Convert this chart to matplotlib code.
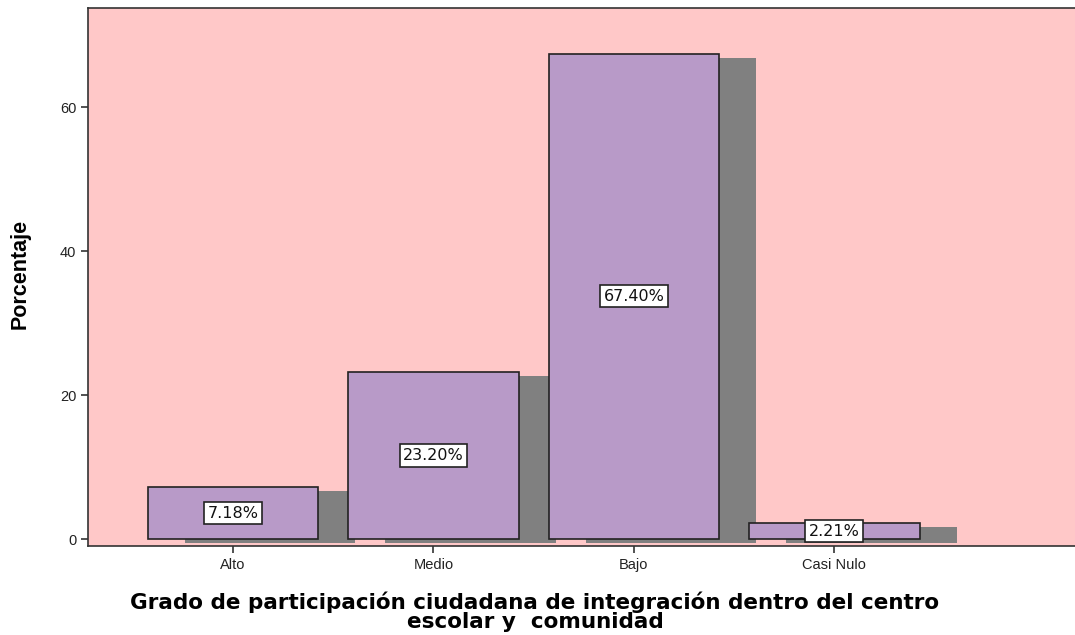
import matplotlib
matplotlib.use('Agg')
import matplotlib.pyplot as plt
import numpy as np

# datos
categorias = ['Alto', 'Medio', 'Bajo', 'Casi Nulo']
porcentajes = [7.18, 23.20, 67.40, 2.21]
etiquetas = ['7.18%', '23.20%', '67.40%', '2.21%']

plt.rcParams['font.family'] = ['Liberation Sans', 'DejaVu Sans']

color_fondo = '#FFC8C8'
color_barra = '#B89AC8'
color_sombra = '#808080'

fig = plt.figure(figsize=(10.75, 6.35), dpi=100)
ax = fig.add_axes([88 / 1075, 89 / 635, 1 - 88 / 1075, 538 / 635])
ax.set_facecolor(color_fondo)

x = np.arange(len(categorias))
ancho = 0.85

# sombras (desplazadas a la derecha y abajo)
ax.bar(x + 0.185, porcentajes, width=ancho, bottom=-0.55,
       color=color_sombra, edgecolor='none', zorder=1)
# barras
ax.bar(x, porcentajes, width=ancho, color=color_barra,
       edgecolor='#222222', linewidth=1.2, zorder=2)

for xi, v, t in zip(x, porcentajes, etiquetas):
    ax.text(xi, v / 2, t, ha='center', va='center', fontsize=11.5, zorder=3,
            family='DejaVu Sans', color='#111111',
            bbox=dict(boxstyle='square,pad=0.22', facecolor='white',
                      edgecolor='#222222', linewidth=1.2))

ax.set_xlim(-0.723, 4.2)
ax.set_ylim(-0.97, 73.75)
ax.set_yticks([0, 20, 40, 60])
ax.set_xticks(x)
ax.set_xticklabels(categorias)
ax.tick_params(axis='both', labelsize=10.5, length=5, width=1.2, color='#333333',
               labelcolor='#222222')

for s in ['left', 'bottom', 'top']:
    ax.spines[s].set_color('#333333')
    ax.spines[s].set_linewidth(1.2)
ax.spines['right'].set_visible(False)

ax.set_ylabel('Porcentaje', fontsize=15.5, fontweight='bold')
ax.yaxis.set_label_coords(-57 / 987, (539 - 274) / 538 + 7 / 538)
ax.set_xlabel('Grado de participación ciudadana de integración dentro del centro\n'
              'escolar y  comunidad', fontsize=15.5, fontweight='bold',
              family='DejaVu Sans', linespacing=0.9)
ax.xaxis.set_label_coords((535 - 88) / 987, -0.085)

fig.savefig('out.png', dpi=100)
